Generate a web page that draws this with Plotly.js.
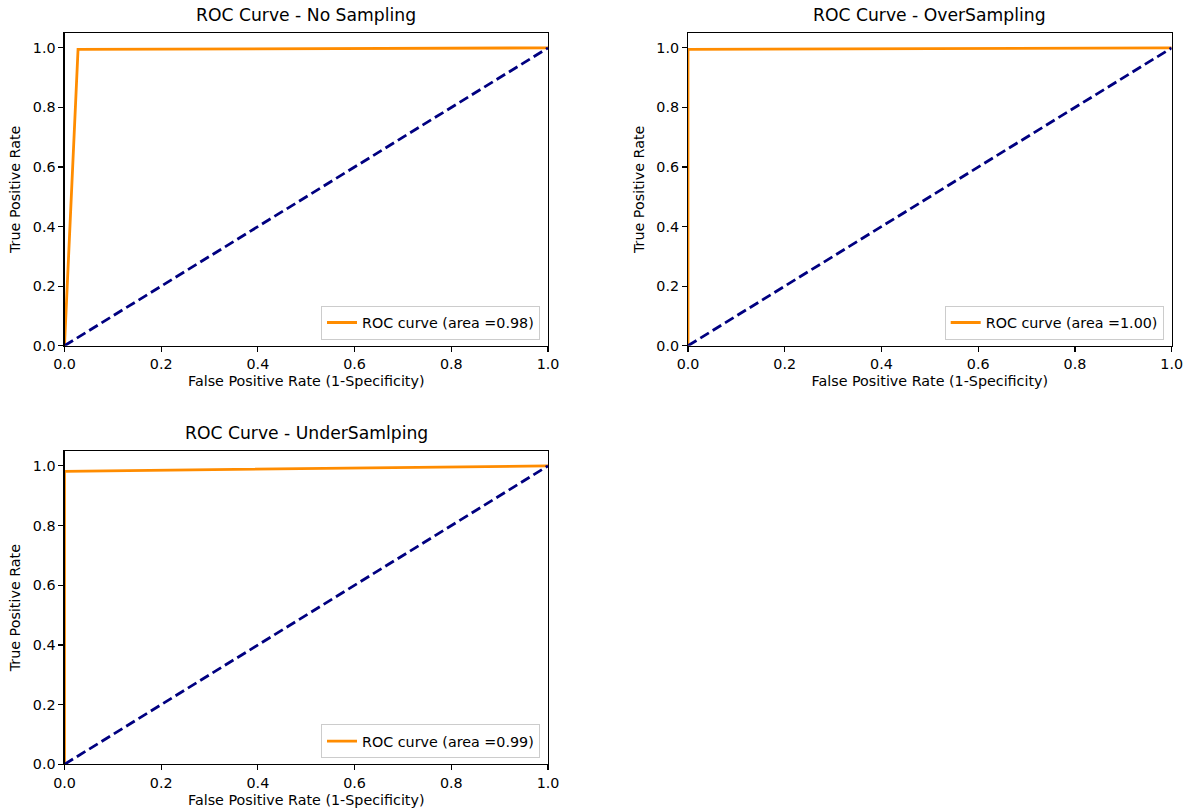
<!DOCTYPE html>
<html>
<head>
<meta charset="utf-8">
<script src="https://cdn.plot.ly/plotly-3.0.1.min.js"></script>
<style>html,body{margin:0;padding:0;background:#fff;}#chart{width:1197px;height:809px;}</style>
</head>
<body>
<div id="chart"></div>
<script>
// Data
const titles = ["ROC Curve - No Sampling", "ROC Curve - OverSampling", "ROC Curve - UnderSamlping"];
const legendLabels = ["ROC curve (area =0.98)", "ROC curve (area =1.00)", "ROC curve (area =0.99)"];
const fprNone = [0, 0.028, 1];
const tprNone = [0, 0.995, 1];
const fprOver = [0, 0, 1];
const tprOver = [0, 0.995, 1];
const fprUnder = [0, 0, 1];
const tprUnder = [0, 0.982, 1];
const diagX = [0, 1];
const diagY = [0, 1];
const tickVals = [0, 0.2, 0.4, 0.6, 0.8, 1.0];
const tickText = ["0.0", "0.2", "0.4", "0.6", "0.8", "1.0"];

const W = 1197, H = 809;
const FONT = "DejaVu Sans, Liberation Sans, sans-serif";
const ORANGE = "#ff8c00", NAVY = "#000080";
const FS = 14.3, TFS = 17.2;

const series = [[fprNone, tprNone], [fprOver, tprOver], [fprUnder, tprUnder]];
const axisIds = [["x", "y"], ["x2", "y2"], ["x3", "y3"]];
const legendIds = ["legend", "legend2", "legend3"];

// pixel boxes [left, right, top, bottom]
const boxes = [[64.5, 548, 33, 345.7], [688, 1171.7, 33, 345.7], [64.5, 548, 451, 764.3]];

const traces = [];
series.forEach((s, i) => {
  traces.push({
    x: s[0], y: s[1], type: "scatter", mode: "lines",
    xaxis: axisIds[i][0], yaxis: axisIds[i][1],
    line: {color: ORANGE, width: 2.8},
    name: legendLabels[i], legend: legendIds[i], showlegend: true
  });
  traces.push({
    x: diagX, y: diagY, type: "scatter", mode: "lines",
    xaxis: axisIds[i][0], yaxis: axisIds[i][1],
    line: {color: NAVY, width: 2.8, dash: "10px,4.5px"},
    showlegend: false, hoverinfo: "skip"
  });
});

const layout = {
  width: W, height: H,
  margin: {l: 0, r: 0, t: 0, b: 0},
  paper_bgcolor: "#fff", plot_bgcolor: "#fff",
  font: {family: FONT, size: FS, color: "#000"},
  annotations: [],
};

boxes.forEach((b, i) => {
  const xd = [b[0] / W, b[1] / W];
  const yd = [1 - b[3] / H, 1 - b[2] / H];
  const sfx = i === 0 ? "" : String(i + 1);
  const common = {
    showgrid: false, zeroline: false, showline: true, mirror: true,
    linecolor: "#000", linewidth: 1.1, ticks: "outside", ticklen: 5, tickwidth: 1.1, tickcolor: "#000",
    tickvals: tickVals, ticktext: tickText, tickfont: {family: FONT, size: FS, color: "#000"}
  };
  layout["xaxis" + sfx] = Object.assign({}, common, {
    domain: xd, range: [0, 1], anchor: "y" + sfx,
    title: {text: "False Positive Rate (1-Specificity)", font: {family: FONT, size: FS, color: "#000"}, standoff: 5}
  });
  layout["yaxis" + sfx] = Object.assign({}, common, {
    domain: yd, range: [0, 1.05], anchor: "x" + sfx,
    title: {text: "True Positive Rate", font: {family: FONT, size: FS, color: "#000"}, standoff: 8}
  });
  layout[legendIds[i]] = {
    x: (b[1] - 8) / W, y: 1 - (b[3] - 6) / H, xanchor: "right", yanchor: "bottom",
    xref: "paper", yref: "paper",
    bgcolor: "rgba(255,255,255,0.8)", bordercolor: "#cccccc", borderwidth: 1,
    font: {family: FONT, size: FS, color: "#000"}
  };
  layout.annotations.push({
    text: titles[i], xref: "paper", yref: "paper",
    x: (b[0] + b[1]) / 2 / W, y: 1 - (b[2] - 6) / H, xanchor: "center", yanchor: "bottom",
    showarrow: false, font: {family: FONT, size: TFS, color: "#000"}
  });
});

Plotly.newPlot("chart", traces, layout, {displayModeBar: false, staticPlot: true});
</script>
</body>
</html>
